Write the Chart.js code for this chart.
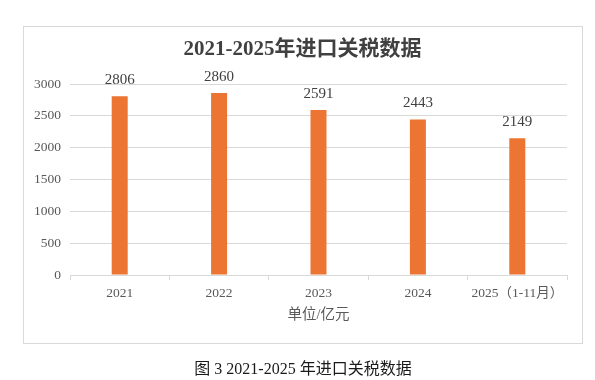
<!DOCTYPE html>
<html>
<head>
<meta charset="utf-8">
<script src="https://cdn.jsdelivr.net/npm/chart.js@4"></script>
<style>
html,body{margin:0;padding:0;background:#fff;}
#wrap{width:595px;height:380px;position:relative;}
</style>
</head>
<body>
<div id="wrap"><canvas id="c" width="595" height="380"></canvas></div>
<script>
const categories = ['2021', '2022', '2023', '2024', '2025（1-11月）'];
const values = [2806, 2860, 2591, 2443, 2149];
const yTicks = [0, 500, 1000, 1500, 2000, 2500, 3000];
const titleText = '2021-2025年进口关税数据';
const unitText = '单位/亿元';
const captionText = '图 3 2021-2025 年进口关税数据';

const SERIF = "'Liberation Serif', 'Noto Sans CJK SC', serif";

const decor = {
  id: 'decor',
  beforeDraw(chart) {
    const ctx = chart.ctx;
    ctx.save();
    ctx.fillStyle = '#ffffff';
    ctx.fillRect(0, 0, chart.width, chart.height);
    ctx.strokeStyle = '#d9d9d9';
    ctx.lineWidth = 1;
    ctx.strokeRect(23.5, 26.5, 559, 317);
    ctx.restore();
  },
  afterDraw(chart) {
    const ctx = chart.ctx;
    const area = chart.chartArea;
    ctx.save();
    ctx.textAlign = 'center';
    ctx.textBaseline = 'middle';
    ctx.fillStyle = '#404040';
    ctx.font = "bold 21px " + SERIF;
    ctx.fillText(titleText, 302.5, 50);
    ctx.fillStyle = '#595959';
    ctx.font = "14.5px " + SERIF;
    ctx.fillText(unitText, (area.left + area.right) / 2, 315);
    ctx.fillStyle = '#1a1a1a';
    ctx.font = "16px " + SERIF;
    ctx.fillText(captionText, 303, 370);
    // data labels
    const meta = chart.getDatasetMeta(0);
    ctx.fillStyle = '#404040';
    ctx.font = "15px " + SERIF;
    ctx.textBaseline = 'alphabetic';
    meta.data.forEach((bar, i) => {
      ctx.fillText(String(values[i]), bar.x, bar.y - 12);
    });
    ctx.restore();
  }
};

new Chart(document.getElementById('c'), {
  type: 'bar',
  data: {
    labels: categories,
    datasets: [{
      data: values,
      backgroundColor: '#EC7533',
      borderWidth: 0,
      barPercentage: 1,
      categoryPercentage: 0.161
    }]
  },
  options: {
    responsive: false,
    devicePixelRatio: 1,
    animation: false,
    layout: { padding: { top: 84, right: 28, left: 0, bottom: 0 } },
    plugins: { legend: { display: false }, tooltip: { enabled: false }, title: { display: false } },
    scales: {
      x: {
        grid: { drawOnChartArea: false, drawTicks: true, tickLength: 5, offset: true, color: '#d9d9d9' },
        border: { display: true, color: '#d9d9d9', width: 1 },
        ticks: { color: '#595959', font: { family: SERIF, size: 13.5 }, padding: 5, maxRotation: 0, autoSkip: false },
        afterFit(scale) { scale.height = 105; }
      },
      y: {
        min: 0,
        max: 3000,
        grid: { drawTicks: false, color: '#d9d9d9' },
        border: { display: false },
        ticks: { color: '#595959', font: { family: SERIF, size: 13.5 }, padding: 9, callback: v => String(v) },
        afterBuildTicks(scale) { scale.ticks = yTicks.map(v => ({ value: v })); },
        afterFit(scale) { scale.width = 70; }
      }
    }
  },
  plugins: [decor]
});
</script>
</body>
</html>
